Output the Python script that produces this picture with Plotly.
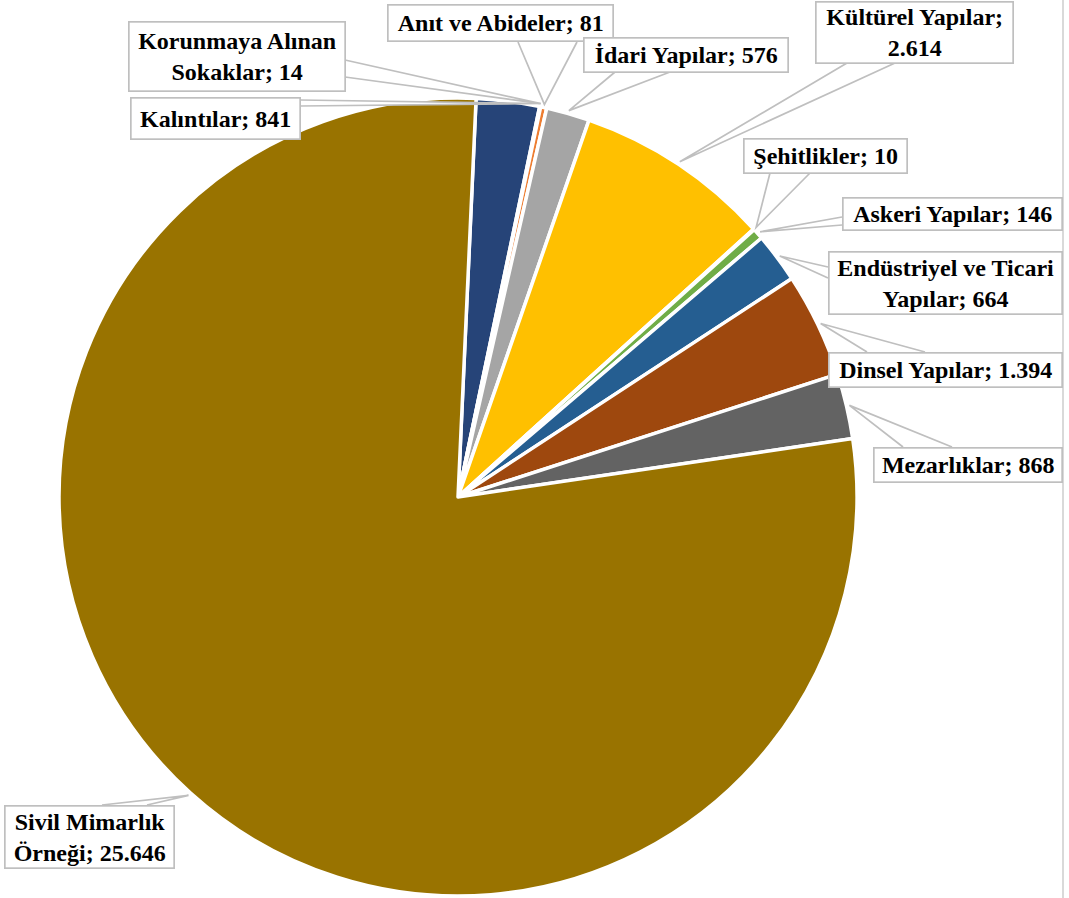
import math
import plotly.graph_objects as go

# ---- data (clockwise from top) ----
labels = ["Kalıntılar", "Korunmaya Alınan Sokaklar", "Anıt ve Abideler", "İdari Yapılar",
          "Kültürel Yapılar", "Şehitlikler", "Askeri Yapılar", "Endüstriyel ve Ticari Yapılar",
          "Dinsel Yapılar", "Mezarlıklar", "Sivil Mimarlık Örneği"]
values = [841, 14, 81, 576, 2614, 10, 146, 664, 1394, 868, 25646]
label_text = ["Kalıntılar; 841", "Korunmaya Alınan<br>Sokaklar; 14", "Anıt ve Abideler; 81",
              "İdari Yapılar; 576", "Kültürel Yapılar;<br>2.614", "Şehitlikler; 10",
              "Askeri Yapılar; 146", "Endüstriyel ve Ticari<br>Yapılar; 664",
              "Dinsel Yapılar; 1.394", "Mezarlıklar; 868", "Sivil Mimarlık<br>Örneği; 25.646"]
colors = ["#264478", "#4472C4", "#ED7D31", "#A5A5A5", "#FFC000", "#5B9BD5",
          "#70AD47", "#255E91", "#9E480E", "#636363", "#997300"]

# ---- layout constants (pixels) ----
W, H = 1069, 898
CX, CY, R = 458, 497, 399
ROT = 2.6
FONT = "Liberation Serif, 'Times New Roman', Tinos, serif"

# label boxes: x0, x1, y0, y1
boxes = [(130, 300, 98, 140), (128, 345, 22, 92), (387, 613, 5, 42), (583, 788, 37, 72),
         (815, 1013, 1, 63), (743, 907, 138, 173), (842, 1062, 197, 230),
         (828, 1062, 252, 315), (828, 1062, 352, 387), (873, 1062, 447, 482),
         (4, 174, 805, 868)]
# pointer base points on the box edge
bases = [((300, 100), (300, 106)), ((345, 60), (345, 77)), ((518, 42), (577, 42)),
         ((615, 72), (670, 72)), ((847, 63), (895, 63)), ((770, 173), (810, 173)),
         ((842, 217), (842, 225)), ((828, 267), (828, 278)), ((867, 352), (925, 352)),
         ((903, 447), (952, 447)), ((102, 805), (147, 805))]
anchor_frac = [1.0, 0.5, 0.5, 0.5, 0.5, 0.5, 0.5, 0.5, 0.5, 0.5, 0.5]


def px(x):
    return x / W


def py(y):
    return 1 - y / H


fig = go.Figure(go.Pie(
    labels=labels, values=values, sort=False, direction="clockwise", rotation=ROT,
    textinfo="none", showlegend=False,
    marker=dict(colors=colors, line=dict(color="white", width=3.5)),
    domain=dict(x=[px(CX - R), px(CX + R)], y=[py(CY + R), py(CY - R)]),
))

total = sum(values)
shapes = []
annotations = []
cum = 0.0
for i, v in enumerate(values):
    a0 = ROT + 360 * cum / total
    a1 = ROT + 360 * (cum + v) / total
    cum += v
    ang = math.radians(a0 + (a1 - a0) * anchor_frac[i])
    ax = CX + (R + 3) * math.sin(ang)
    ay = CY - (R + 3) * math.cos(ang)
    (b1x, b1y), (b2x, b2y) = bases[i]
    path = (f"M {px(b1x)} {py(b1y)} L {px(ax)} {py(ay)} L {px(b2x)} {py(b2y)}")
    shapes.append(dict(type="path", xref="paper", yref="paper", path=path,
                       line=dict(color="#BFBFBF", width=1.7), fillcolor="white"))
    x0, x1, y0, y1 = boxes[i]
    annotations.append(dict(
        x=px((x0 + x1) / 2), y=py((y0 + y1) / 2), xref="paper", yref="paper",
        xanchor="center", yanchor="middle", showarrow=False, text=f"<b>{label_text[i]}</b>",
        font=dict(family=FONT, size=24, color="black"),
        align="center", width=x1 - x0 - 4, height=y1 - y0 - 4, borderpad=1,
        bgcolor="white", bordercolor="#BFBFBF", borderwidth=1.7,
    ))

shapes.append(dict(type="line", xref="paper", yref="paper", x0=px(1063), x1=px(1063),
                   y0=0, y1=1, line=dict(color="#D9D9D9", width=2)))

fig.update_layout(width=W, height=H, margin=dict(l=0, r=0, t=0, b=0),
                  paper_bgcolor="white", plot_bgcolor="white",
                  font=dict(family=FONT),
                  shapes=shapes, annotations=annotations)

fig.write_html("out.html", config={"displayModeBar": False},
               post_script="document.body.style.margin='0';document.body.style.overflow='hidden';")
